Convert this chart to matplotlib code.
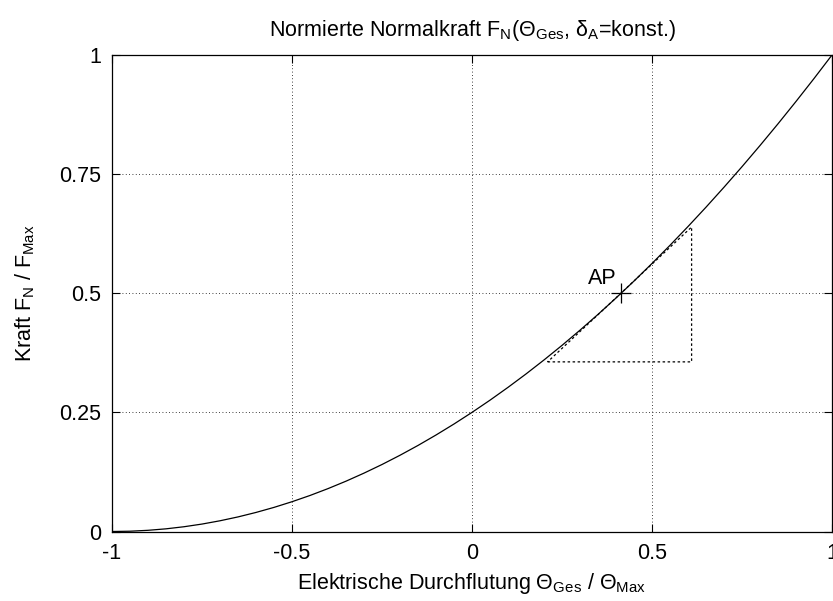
import matplotlib
matplotlib.use("Agg")
import matplotlib.pyplot as plt

plt.rcParams['font.family'] = ['Liberation Sans', 'DejaVu Sans']
plt.rcParams['mathtext.fontset'] = 'custom'
plt.rcParams['mathtext.rm'] = 'Liberation Sans'
plt.rcParams['mathtext.it'] = 'Liberation Sans'
plt.rcParams['mathtext.bf'] = 'Liberation Sans'
plt.rcParams['mathtext.default'] = 'regular'

# Data
theta = [-1.0, -0.95, -0.9, -0.85, -0.8, -0.75, -0.7, -0.65, -0.6, -0.55, -0.5,
         -0.45, -0.4, -0.35, -0.3, -0.25, -0.2, -0.15, -0.1, -0.05, 0.0,
         0.05, 0.1, 0.15, 0.2, 0.25, 0.3, 0.35, 0.4, 0.45, 0.5,
         0.55, 0.6, 0.65, 0.7, 0.75, 0.8, 0.85, 0.9, 0.95, 1.0]
force = [0.0, 0.0006, 0.0025, 0.0056, 0.01, 0.0156, 0.0225, 0.0306, 0.04, 0.0506, 0.0625,
         0.0756, 0.09, 0.1056, 0.1225, 0.1406, 0.16, 0.1806, 0.2025, 0.2256, 0.25,
         0.2756, 0.3025, 0.3306, 0.36, 0.3906, 0.4225, 0.4556, 0.49, 0.5256, 0.5625,
         0.6006, 0.64, 0.6806, 0.7225, 0.7656, 0.81, 0.8556, 0.9025, 0.9506, 1.0]
ap_x, ap_y = 0.414, 0.5
tri_x = [0.21, 0.61, 0.61, 0.21]
tri_y = [0.356, 0.356, 0.639, 0.356]
xticks = [-1, -0.5, 0, 0.5, 1]
xticklabels = ['-1', '-0.5', '0', '0.5', '1']
yticks = [0, 0.25, 0.5, 0.75, 1]
yticklabels = ['0', '0.25', '0.5', '0.75', '1']

fs = 15.5
fig = plt.figure(figsize=(8.33, 6.01), dpi=100)
ax = fig.add_axes([112/833, 1-531.5/601, 720/833, 476.5/601])

ax.plot(theta, force, color='black', lw=0.9)
ax.plot(tri_x, tri_y, color='black', lw=0.9, ls=(0, (2, 2)))
ax.plot([ap_x], [ap_y], marker='+', color='black', ms=15, mew=0.9)
ax.text(ap_x - 0.012, ap_y + 0.008, 'AP', ha='right', va='bottom', fontsize=fs)

ax.set_xlim(-1, 1)
ax.set_ylim(0, 1)
ax.set_xticks(xticks)
ax.set_xticklabels(xticklabels)
ax.set_yticks(yticks)
ax.set_yticklabels(yticklabels)
ax.grid(True, color='black', lw=0.6, ls=(0, (1, 3)))
ax.tick_params(direction='in', length=6, width=0.8, top=True, right=True,
               labelsize=fs, pad=8)
for s in ax.spines.values():
    s.set_linewidth(0.9)

ax.set_title(r'Normierte Normalkraft $F_N(\Theta_{Ges}$, $\delta_A$=konst.)',
             fontsize=fs, pad=14)
ax.set_xlabel(r'Elektrische Durchflutung $\Theta_{Ges}$ / $\Theta_{Max}$', fontsize=fs, labelpad=5)
ax.set_ylabel(r'Kraft $F_N$ / $F_{Max}$', fontsize=fs, labelpad=16)

fig.savefig('out.png', dpi=100)
